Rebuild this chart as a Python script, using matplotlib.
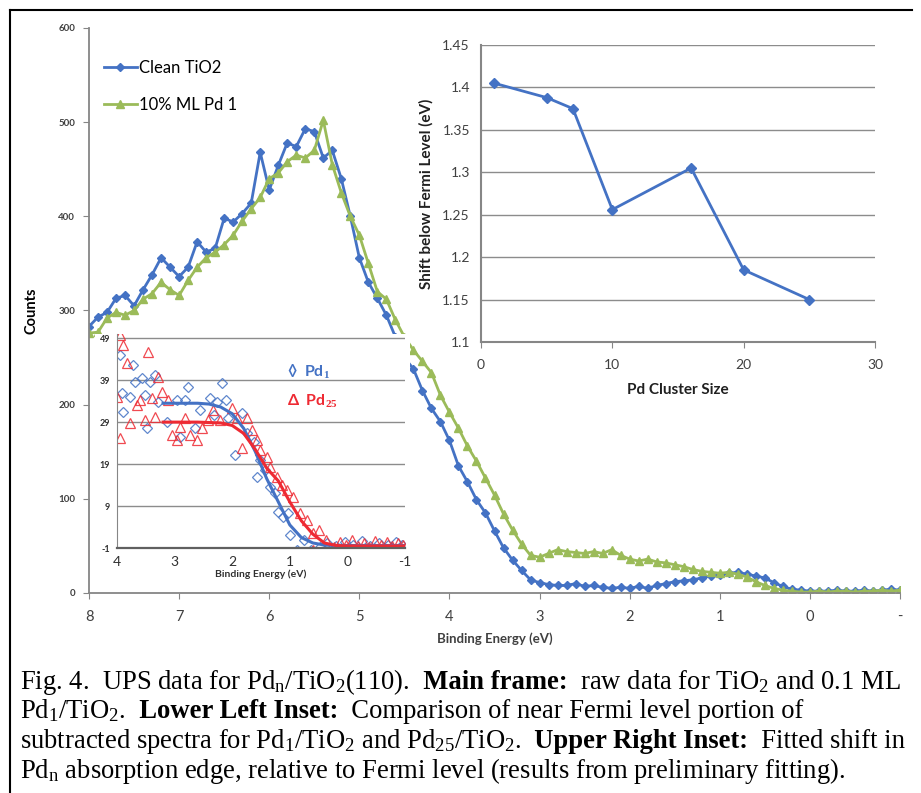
import matplotlib.pyplot as plt
import numpy as np
from matplotlib.patches import Rectangle
from matplotlib.lines import Line2D

plt.rcParams['font.family'] = ['Lato', 'DejaVu Sans']
plt.rcParams['axes.unicode_minus'] = False
plt.rcParams['mathtext.fontset'] = 'custom'
plt.rcParams['mathtext.rm'] = 'Liberation Serif'
plt.rcParams['mathtext.it'] = 'Liberation Serif:italic'
plt.rcParams['mathtext.bf'] = 'Liberation Serif:bold'

# main frame: raw UPS spectra, 8 eV down to -1 eV in 0.1 eV steps
energy = np.round(np.arange(8.0, -1.05, -0.1), 2)
clean_tio2 = [283, 293, 298, 313, 316, 305, 322, 338, 356, 346,
              336, 346, 373, 362, 366, 398, 394, 403, 414, 468,
              428, 454, 478, 474, 493, 490, 462, 470, 440, 400,
              356, 330, 313, 295, 272, 250, 238, 215, 196, 182,
              162, 135, 118, 99, 85, 66, 48, 35, 24, 14,
              11, 9, 8, 8, 10, 7, 8, 6, 5, 6,
              5, 7, 5, 8, 10, 12, 13, 14, 16, 18,
              19, 21, 22, 20, 18, 16, 11, 7, 4, 3,
              2, 2, 2, 3, 2, 2, 3, 2, 3, 4, 3]
pd1_10pct = [276, 277, 292, 298, 295, 300, 312, 318, 330, 322,
             316, 332, 346, 356, 362, 370, 380, 395, 408, 420,
             440, 446, 458, 465, 462, 470, 502, 455, 425, 400,
             380, 350, 320, 312, 290, 272, 258, 246, 234, 210,
             192, 175, 156, 140, 122, 104, 84, 67, 52, 40,
             38, 42, 46, 44, 43, 42, 44, 42, 46, 40,
             36, 34, 36, 33, 32, 30, 28, 25, 23, 22,
             21, 22, 20, 17, 12, 8, 5, 3, 2, 1,
             1, 2, 1, 2, 2, 1, 2, 2, 3, 2, 3]

# lower left inset: subtracted spectra near the Fermi level
pd1_e = [3.95, 3.92, 3.9, 3.77, 3.72, 3.69, 3.57, 3.51, 3.48, 3.43,
         3.34, 3.29, 3.13, 2.96, 2.9, 2.82, 2.77, 2.64, 2.56, 2.39,
         2.31, 2.27, 2.17, 2.1, 2.07, 1.95, 1.83, 1.74, 1.63, 1.57,
         1.51, 1.43, 1.34, 1.25, 1.2, 1.11, 1.03, 1.0, 0.87, 0.76,
         0.64, 0.47, 0.35, 0.2, 0.05, -0.1, -0.25, -0.4, -0.55, -0.7,
         -0.85, -0.95]
pd1_v = [45.0, 35.9, 31.4, 35.0, 42.6, 38.5, 39.5, 35.4, 27.6, 38.5,
         40.2, 33.8, 29.0, 34.2, 25.4, 34.2, 37.3, 27.6, 31.9, 34.7,
         30.7, 33.8, 38.3, 34.2, 30.0, 21.1, 31.1, 26.4, 24.2, 15.9,
         20.0, 17.6, 13.5, 12.1, 7.6, 6.4, 7.3, 2.1, -1.5, 0.9,
         -1.5, -0.8, 0.3, -0.6, 0.4, -0.3, 0.6, -0.5, 0.2, -0.4,
         0.5, -0.2]
pd25_e = [4.0, 3.95, 3.95, 3.9, 3.83, 3.77, 3.65, 3.6, 3.51, 3.46,
          3.39, 3.34, 3.29, 3.22, 3.11, 3.05, 2.96, 2.9, 2.82, 2.73,
          2.61, 2.52, 2.42, 2.33, 2.21, 2.0, 1.92, 1.83, 1.74, 1.66,
          1.57, 1.51, 1.39, 1.34, 1.22, 1.13, 1.04, 0.94, 0.82, 0.7,
          0.59, 0.59, 0.5, 0.38, 0.24, 0.12, 0.02, -0.08, -0.18, -0.28,
          -0.38, -0.48, -0.58, -0.68, -0.78, -0.88, -0.97]
pd25_v = [35.0, 49.7, 25.2, 47.3, 43.0, 28.8, 33.0, 34.2, 29.5, 45.7,
          34.7, 30.2, 39.7, 36.1, 34.2, 25.9, 24.7, 27.8, 30.0, 25.9,
          24.7, 27.6, 29.5, 31.9, 29.5, 32.3, 30.0, 22.8, 30.0, 27.1,
          24.7, 22.3, 20.7, 18.3, 15.9, 14.0, 12.8, 11.1, 7.3, 5.7,
          2.6, -1.5, 3.3, 0.9, -0.8, 0.5, -0.4, 0.8, -0.6, 0.3,
          -0.7, 0.6, -0.3, 0.4, -0.5, 0.2, -0.2]
fit_e = [3.2, 3.0, 2.8, 2.6, 2.4, 2.2, 2.0, 1.8, 1.6, 1.4,
         1.2, 1.0, 0.8, 0.6, 0.4, 0.2, 0.0, -0.5, -1.0]
pd1_fit = [33.5, 33.5, 33.5, 33.5, 33.3, 32.6, 31.0, 27.5, 22.0, 15.5,
           10.0, 4.5, 1.5, 0.2, -0.3, -0.4, -0.4, -0.4, -0.4]
pd25_fit = [29.0, 29.0, 29.0, 29.0, 28.9, 28.8, 28.2, 26.3, 22.5, 18.0,
            15.0, 10.0, 5.5, 2.3, 0.2, -0.4, -0.5, -0.5, -0.5]

# upper right inset: fitted edge shift vs cluster size
cluster_size = [1, 5, 7, 10, 16, 20, 25]
edge_shift = [1.405, 1.388, 1.375, 1.256, 1.305, 1.185, 1.15]

blue = '#4472C4'
green = '#9BBB59'
red = '#EE2A33'
axis_gray = '#868686'
label_gray = '#404040'

W, H = 921, 793
fig = plt.figure(figsize=(W / 100, H / 100), dpi=100)


def box(l, t, r, b):
    return [l / W, 1 - b / H, (r - l) / W, (b - t) / H]


# ---- main frame ----
ax = fig.add_axes(box(89, 28, 900, 593))
ax.set_zorder(0)
ax.plot(energy, clean_tio2, '-D', color=blue, lw=2, ms=4.5, label='Clean TiO2')
ax.plot(energy, pd1_10pct, '-^', color=green, lw=2, ms=6, label='10% ML Pd 1')
ax.set_xlim(8, -1)
ax.set_ylim(0, 600)
ax.set_xticks(range(8, -2, -1))
ax.set_xticklabels(['8', '7', '6', '5', '4', '3', '2', '1', '0', '-'])
ax.set_yticks(range(0, 700, 100))
for s in ['top', 'right']:
    ax.spines[s].set_visible(False)
for s in ['left', 'bottom']:
    ax.spines[s].set_color(axis_gray)
    ax.spines[s].set_linewidth(1.3)
ax.tick_params(axis='x', colors=axis_gray, labelcolor=label_gray, labelsize=10.5, length=4, pad=8)
ax.tick_params(axis='y', colors=axis_gray, labelcolor=label_gray, labelsize=7, length=4, pad=6)
for t in ax.get_yticklabels():
    t.set_fontweight('bold')
ax.set_ylabel('Counts', fontsize=10.5, fontweight='bold', color='black', labelpad=14)
ax.set_xlabel('Binding Energy (eV)', fontsize=9.5, fontweight='bold', color=label_gray, labelpad=6)
ax.legend(loc='upper left', bbox_to_anchor=(0.01, 0.955), frameon=False, fontsize=12,
          handlelength=2.0, handletextpad=0.1, labelspacing=1.25, borderaxespad=0)

# white panel behind the lower left inset
fig.patches.append(Rectangle((95 / W, 1 - 592 / H), (410 - 95) / W, (592 - 334) / H,
                             transform=fig.transFigure, facecolor='white',
                             edgecolor='none', zorder=1))

# ---- lower left inset ----
ax2 = fig.add_axes(box(117, 334, 405, 548))
ax2.set_zorder(2)
ax2.set_facecolor('white')
ax2.set_xlim(4, -1)
ax2.set_ylim(-1, 50)
ax2.set_yticks([-1, 9, 19, 29, 39, 49])
ax2.set_xticks([4, 3, 2, 1, 0, -1])
ax2.yaxis.grid(True, color='#8c8c8c', lw=1)
ax2.set_axisbelow(True)
ax2.plot(pd1_e, pd1_v, 'D', mfc='none', mec=blue, mew=0.9, ms=5.5, alpha=0.85)
ax2.plot(pd25_e, pd25_v, '^', mfc='none', mec=red, mew=0.9, ms=7, alpha=0.85)
ax2.plot(fit_e, pd1_fit, '-', color=blue, lw=2.2)
ax2.plot(fit_e, pd25_fit, '-', color=red, lw=2.2)
for s in ['top', 'right']:
    ax2.spines[s].set_visible(False)
ax2.spines['left'].set_color(axis_gray)
ax2.spines['bottom'].set_color('#606060')
ax2.spines['bottom'].set_linewidth(1.6)
ax2.tick_params(axis='y', length=0, labelsize=6.5, labelcolor='#303030', pad=5)
ax2.tick_params(axis='x', length=0, labelsize=10, labelcolor='#303030', pad=6)
for t in ax2.get_yticklabels():
    t.set_fontweight('bold')
ax2.set_xlabel('Binding Energy (eV)', fontsize=7.5, fontweight='bold', color='#303030', labelpad=1)
ax2.text(0.59, 0.80, '\u25ca  Pd$_\\mathbf{1}$', transform=ax2.transAxes, color=blue,
         fontsize=11.5, fontweight='bold')
ax2.text(0.59, 0.665, '\u0394  Pd$_\\mathbf{25}$', transform=ax2.transAxes, color=red,
         fontsize=11.5, fontweight='bold')

# ---- upper right inset ----
ax3 = fig.add_axes(box(481, 45, 875, 342))
ax3.set_zorder(2)
ax3.set_facecolor('white')
ax3.plot(cluster_size, edge_shift, '-D', color=blue, lw=2, ms=5)
ax3.set_xlim(0, 30)
ax3.set_ylim(1.1, 1.45)
ax3.set_xticks([0, 10, 20, 30])
ax3.set_yticks([1.1, 1.15, 1.2, 1.25, 1.3, 1.35, 1.4, 1.45])
ax3.set_yticklabels(['1.1', '1.15', '1.2', '1.25', '1.3', '1.35', '1.4', '1.45'])
ax3.yaxis.grid(True, color='#8c8c8c', lw=1)
ax3.set_axisbelow(True)
for s in ['top', 'right']:
    ax3.spines[s].set_visible(False)
for s in ['left', 'bottom']:
    ax3.spines[s].set_color(axis_gray)
    ax3.spines[s].set_linewidth(1.5)
ax3.tick_params(axis='y', length=0, labelsize=10, labelcolor=label_gray, pad=8)
ax3.tick_params(axis='x', length=4, colors=axis_gray, labelcolor=label_gray, labelsize=10, pad=8)
ax3.set_ylabel('Shift below Fermi Level (eV)', fontsize=11, fontweight='bold', color='#202020', labelpad=6)
ax3.set_xlabel('Pd Cluster Size', fontsize=11, fontweight='bold', color='#202020', labelpad=9)

# ---- caption: each line is a run of normal / bold pieces ----
# (spaces lead each piece so the measured width keeps them)
caption = [
    [(r'Fig. 4.  UPS data for Pd$_\mathrm{n}$/TiO$_\mathrm{2}$(110).', 'normal'),
     ('  Main frame:', 'bold'),
     (r'  raw data for TiO$_\mathrm{2}$ and 0.1 ML', 'normal')],
    [(r'Pd$_\mathrm{1}$/TiO$_\mathrm{2}$.', 'normal'),
     ('  Lower Left Inset:', 'bold'),
     ('  Comparison of near Fermi level portion of', 'normal')],
    [(r'subtracted spectra for Pd$_\mathrm{1}$/TiO$_\mathrm{2}$ and Pd$_\mathrm{25}$/TiO$_\mathrm{2}$.', 'normal'),
     ('  Upper Right Inset:', 'bold'),
     ('  Fitted shift in', 'normal')],
    [(r'Pd$_\mathrm{n}$ absorption edge, relative to Fermi level (results from preliminary fitting).', 'normal')],
]
renderer = fig.canvas.get_renderer()
for i, pieces in enumerate(caption):
    x = 20.0
    y = 1 - (689 + i * 29.5) / H
    for s, wt in pieces:
        t = fig.text(x / W, y, s, va='baseline', fontsize=19.2, family='Liberation Serif',
                     fontweight=wt, color='black')
        x += t.get_window_extent(renderer).width

# outer frame
fig.add_artist(Line2D([10 / W, 10 / W], [0, 1 - 10 / H], transform=fig.transFigure, color='black', lw=1.5))
fig.add_artist(Line2D([10 / W, 912 / W], [1 - 10 / H, 1 - 10 / H], transform=fig.transFigure, color='black', lw=1.5))

fig.savefig('out.png', dpi=100, facecolor='white')
